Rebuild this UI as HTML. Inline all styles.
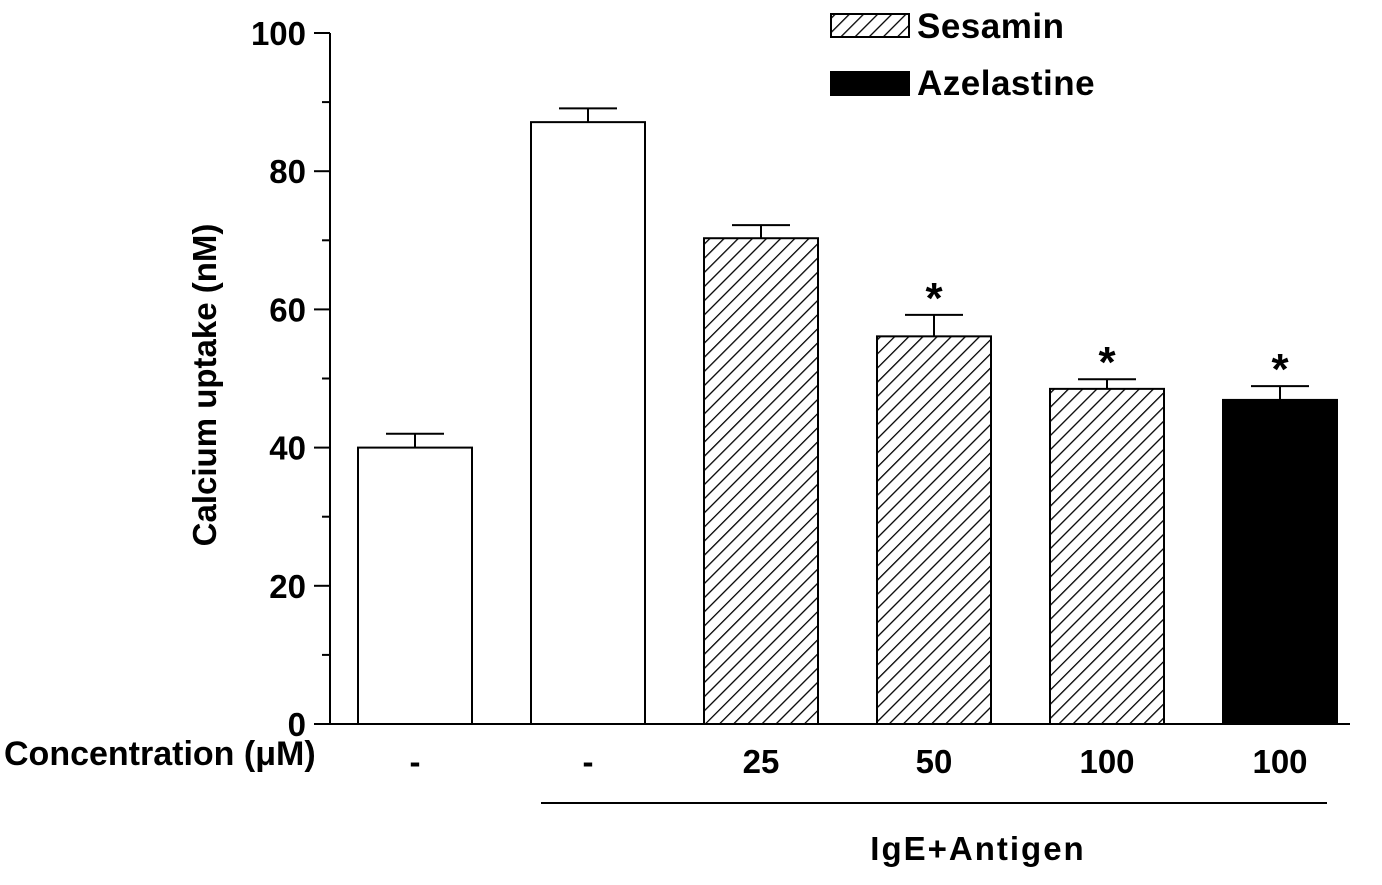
<!DOCTYPE html>
<html><head><meta charset="utf-8"><style>
body{margin:0;background:#fff}
svg text{font-family:"Liberation Sans",Arial,sans-serif;font-weight:bold;fill:#000}
</style></head><body>
<svg id="chart" width="1382" height="880" xmlns="http://www.w3.org/2000/svg">
<defs>
<pattern id="hatch" patternUnits="userSpaceOnUse" width="10" height="10" patternTransform="rotate(45)">
<rect width="10" height="10" fill="#fff"/>
<line x1="0" y1="0" x2="0" y2="10" stroke="#000" stroke-width="2.6"/>
</pattern>
</defs>
<g id="axes"></g>
<g id="bars"></g>
<text transform="translate(216,385) rotate(-90)" text-anchor="middle" font-size="33">Calcium uptake (nM)</text>
<text x="4" y="765" font-size="34">Concentration (μM)</text>
<line x1="541" y1="803" x2="1327" y2="803" stroke="#000" stroke-width="2"/>
<text x="978" y="860" text-anchor="middle" font-size="33" letter-spacing="2">IgE+Antigen</text>
<g>
<rect x="831" y="14" width="78" height="23" fill="url(#hatch)" stroke="#000" stroke-width="2"/>
<text x="917" y="38" font-size="35" letter-spacing="0.5">Sesamin</text>
<rect x="831" y="72" width="78" height="23" fill="#000" stroke="#000" stroke-width="2"/>
<text x="917" y="95" font-size="35" letter-spacing="0.5">Azelastine</text>
</g>
</svg>
<script>
const categories=["-","-","25","50","100","100"];
const values=[40,87.1,70.3,56.1,48.5,46.9];
const errors=[2,2,1.9,3.1,1.4,2];
const fills=["white","white","hatch","hatch","hatch","black"];
const significant=[false,false,false,true,true,true];
const yTicks=[0,20,40,60,80,100];
const NS="http://www.w3.org/2000/svg";
const y0=724,y100=33,ax=330,bx0=358,bw=114,pitch=173;
function yScale(v){return y0-(v/100)*(y0-y100);}
function xScale(i){return bx0+i*pitch;}
function mk(tag,attrs,parent){const e=document.createElementNS(NS,tag);for(const k in attrs)e.setAttribute(k,attrs[k]);parent.appendChild(e);return e;}
const axes=document.getElementById('axes');
let l=mk('line',{x1:ax,y1:y0,x2:1350,y2:y0,stroke:'#000','stroke-width':2},axes);


l=mk('line',{x1:ax,y1:y100,x2:ax,y2:y0,stroke:'#000','stroke-width':2},axes);


for(let v=0;v<=100;v+=10){
  const t=mk('line',{x1:v%20===0?314:322,y1:yScale(v),x2:ax,y2:yScale(v),stroke:'#000','stroke-width':2},axes);
  
  
}
yTicks.forEach(v=>{
  const t=mk('text',{x:306,y:yScale(v)+12,'text-anchor':'end','font-size':33},axes);
  t.textContent=v;
  
  
});
const bars=document.getElementById('bars');
values.forEach((v,i)=>{
  const x=xScale(i),top=yScale(v),et=yScale(v+errors[i]),cx=x+bw/2;
  const f=fills[i]==='hatch'?'url(#hatch)':(fills[i]==='black'?'#000':'#fff');
  const e=mk('line',{x1:cx,y1:top,x2:cx,y2:et,stroke:'#000','stroke-width':2},bars);
  
  
  const c=mk('line',{x1:cx-29,y1:et,x2:cx+29,y2:et,stroke:'#000','stroke-width':2},bars);
  
  
  const r=mk('rect',{x:x,y:top,width:bw,height:y0-top,fill:f,stroke:'#000','stroke-width':2},bars);
  
  
  const lab=mk('text',{x:cx,y:773,'text-anchor':'middle','font-size':33},bars);
  lab.textContent=categories[i];
  
  
  if(significant[i]){
    const s=mk('text',{x:cx,y:et-2,'text-anchor':'middle','font-size':44,'font-weight':'normal'},bars);
    s.textContent='*';
    
    
  }
});
</script>
</body></html>
